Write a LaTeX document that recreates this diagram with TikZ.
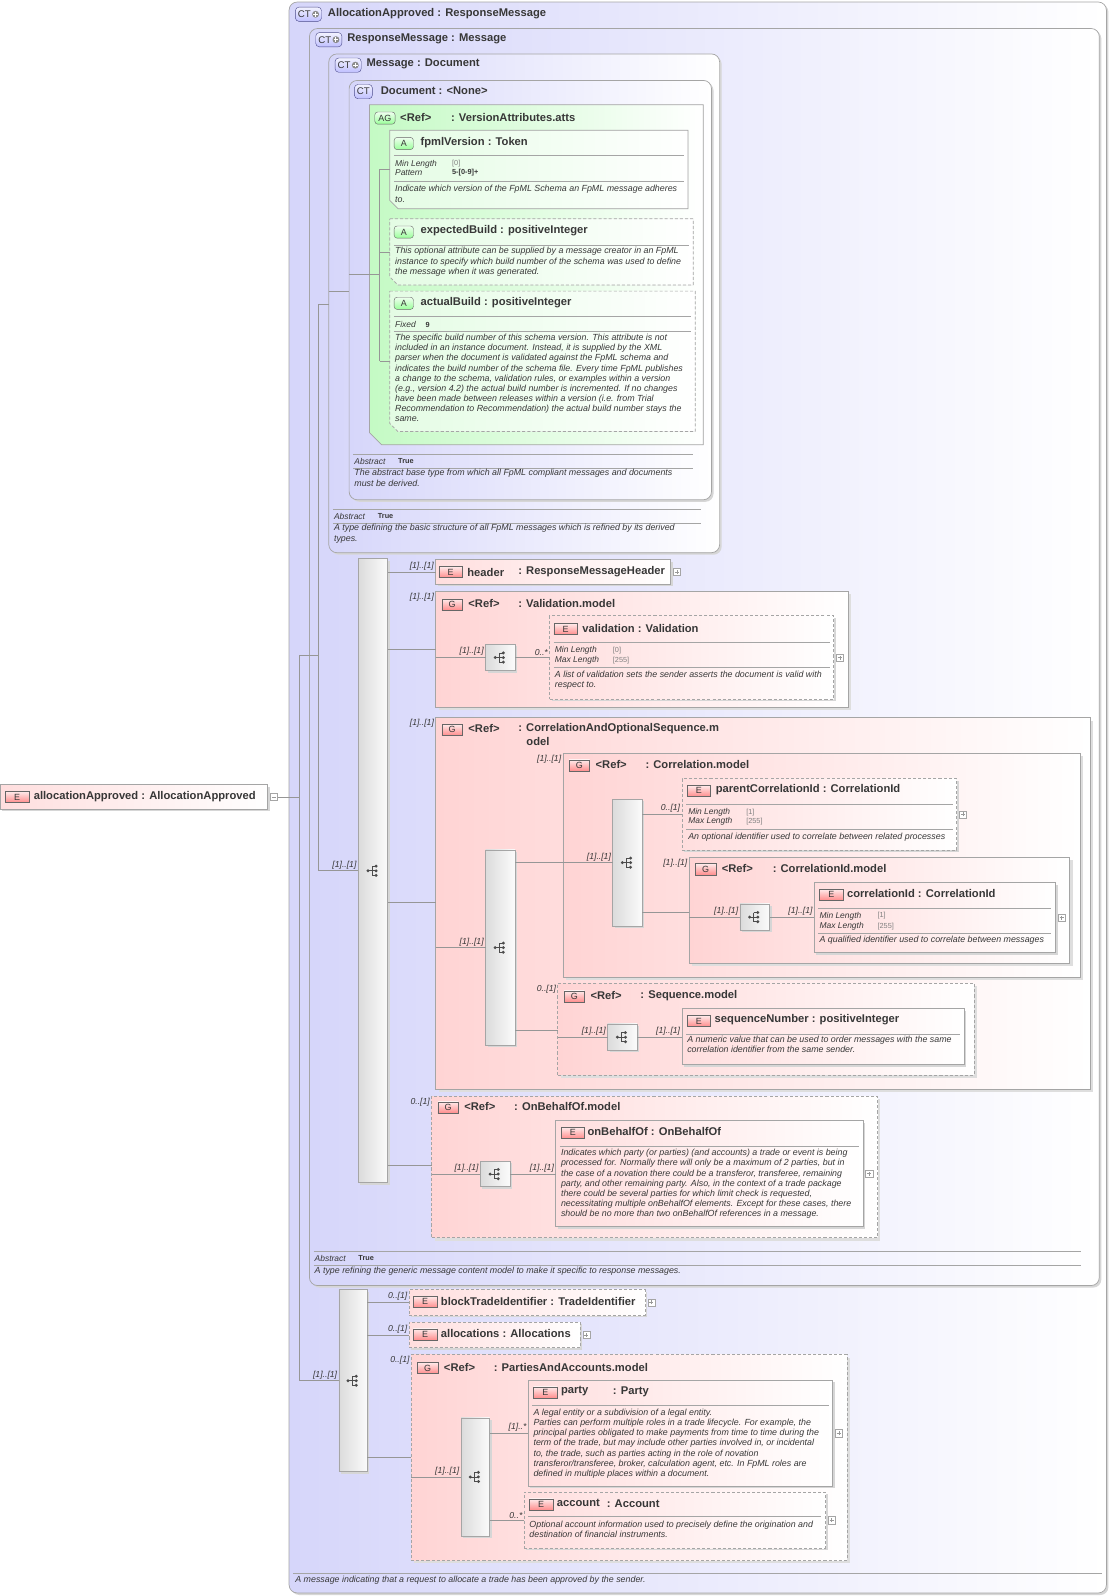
\documentclass[tikz,border=0pt]{standalone}
\usepackage{fontspec}
\setmainfont{Liberation Sans}
\usetikzlibrary{shadows}

\definecolor{ctfill}{RGB}{214,214,250}
\definecolor{agfill}{RGB}{196,250,196}
\definecolor{attfill}{RGB}{228,252,228}
\definecolor{gfill}{RGB}{255,212,212}
\definecolor{efill}{RGB}{255,222,222}
\definecolor{boxline}{RGB}{165,165,165}
\definecolor{connline}{RGB}{150,150,150}
\definecolor{txt}{RGB}{55,55,55}

\tikzset{
  box/.style={draw=boxline, line width=0.7pt, inner sep=0pt, outer sep=0pt, anchor=north west},
  boxshadow/.style={drop shadow={shadow xshift=2pt, shadow yshift=-2pt, opacity=1, fill=black!16}},
  ctbox/.style={box, rounded corners=8pt, left color=ctfill, right color=white, boxshadow},
  gbox/.style={box, left color=gfill, right color=white,
    drop shadow={shadow xshift=3pt, shadow yshift=-3pt, opacity=1, fill=black!13}},
  ebox/.style={box, left color=efill, right color=white, boxshadow},
  holder/.style={box, draw=none},
  optional/.style={dash pattern=on 3pt off 2pt},
  seqbar/.style={box, left color=gray!28, right color=gray!3, boxshadow},
  title/.style={anchor=west, inner sep=0pt, text=txt, font=\fontsize{11}{13}\selectfont\bfseries},
  desc/.style={anchor=north west, align=left, inner sep=0pt, text=txt, font=\fontsize{8.7}{10}\selectfont\itshape},
  prop/.style={anchor=west, inner sep=0pt, text=txt, font=\fontsize{8.3}{9}\selectfont\itshape},
  propval/.style={anchor=west, inner sep=0pt, text=gray, font=\fontsize{7.2}{8}\selectfont},
  fixval/.style={anchor=west, inner sep=0pt, text=txt, font=\fontsize{7.2}{8}\selectfont\bfseries},
  card/.style={anchor=south east, inner sep=1.5pt, text=txt, font=\fontsize{8.5}{9}\selectfont\itshape},
  gcard/.style={card, anchor=north east},
  sep/.style={draw=boxline, line width=0.6pt},
  conn/.style={draw=connline, line width=0.6pt},
  ebadge/.style={anchor=west, draw=black!60, top color=red!8, bottom color=red!45, minimum width=23pt,
    minimum height=11pt, inner sep=0pt, text=txt, font=\fontsize{8.8}{9}\selectfont},
  gbadge/.style={ebadge, minimum width=20pt},
  abadge/.style={ebadge, top color=green!6, bottom color=green!40!white, rounded corners=3pt,
    minimum width=19pt, minimum height=12pt},
  ctbadge/.style={anchor=west, draw=blue!35!black!70, top color=blue!5, bottom color=blue!25,
    rounded corners=3.5pt, minimum height=14pt, inner sep=2.5pt, text=txt, font=\fontsize{9.5}{10}\selectfont},
  plusbox/.style={draw=boxline, fill=white, minimum size=7pt, inner sep=0pt,
    path picture={\draw[gray!80] (path picture bounding box.west) ++(1.5pt,0) -- ++(4pt,0);
      \draw[gray!80] (path picture bounding box.south) ++(0,1.5pt) -- ++(0,4pt);}},
  minusbox/.style={draw=boxline, fill=white, minimum size=7pt, inner sep=0pt,
    path picture={\draw[gray!80] (path picture bounding box.west) ++(1.5pt,0) -- ++(4pt,0);}},
  seqicon/.pic={
    \draw[black!70, line width=0.8pt] (-5,0) -- (-1,0) (-1,-4.5) -- (-1,4.5)
      (-1,-4.5) -- (3,-4.5) (-1,0) -- (3,0) (-1,4.5) -- (3,4.5);
    \fill[black!70] (-5,0) circle (1.6pt) (3,-4.5) circle (1.6pt) (3,0) circle (1.6pt) (3,4.5) circle (1.6pt);
  }
}

\begin{document}
\begin{tikzpicture}[x=1pt, y=-1pt]
  \path[use as bounding box, fill=white] (0,0) rectangle (1092,1568);

  % complex types and attribute group
  \node[ctbox, minimum width=803, minimum height=1563] (allocType) at (284,2) {};
  \node[ctbox, minimum width=776, minimum height=1235] (respType) at (304,28) {};
  \node[ctbox, minimum width=384, minimum height=490] (msgType) at (323,53) {};
  \node[ctbox, minimum width=356, minimum height=412] (docType) at (343,79) {};
  \node[holder, minimum width=328, minimum height=334] (verAtts) at (363,103) {};
  \node[holder, minimum width=293, minimum height=77] (fpmlVersion) at (383,128) {};
  \node[holder, minimum width=298, minimum height=65] (expectedBuild) at (383,215) {};
  \node[holder, minimum width=300, minimum height=138] (actualBuild) at (383,286) {};
  \foreach \n/\c/\f/\d in {verAtts/12/agfill/solid, fpmlVersion/8/attfill/solid,
      expectedBuild/8/attfill/optional, actualBuild/8/attfill/optional} {
    \fill[black!16, xshift=2pt, yshift=-2pt] (\n.north west) -| (\n.south east)
      -- ([xshift=\c pt]\n.south west) -- ([yshift=\c pt]\n.south west) -- cycle;
    \draw[box, left color=\f, right color=white, \d] (\n.north west) -| (\n.south east)
      -- ([xshift=\c pt]\n.south west) -- ([yshift=\c pt]\n.south west) -- cycle;
  }

  % content of ResponseMessage
  \node[seqbar, minimum width=29, minimum height=613] (seqResp) at (352,549) {};
  \node[ebox, minimum width=231, minimum height=24] (header) at (428,550) {};
  \node[gbox, minimum width=405, minimum height=114] (valModel) at (428,581) {};
  \node[seqbar, minimum width=29, minimum height=26] (valSeq) at (477,633) {};
  \node[ebox, optional, minimum width=279, minimum height=82] (validation) at (540,605) {};
  \node[gbox, minimum width=643, minimum height=365] (caosModel) at (428,705) {};
  \node[seqbar, minimum width=29, minimum height=192] (caosSeq) at (477,835) {};
  \node[gbox, minimum width=508, minimum height=220] (corrModel) at (553,740) {};
  \node[seqbar, minimum width=29, minimum height=125] (corrSeq) at (602,785) {};
  \node[ebox, optional, minimum width=270, minimum height=70] (parentCorr) at (670,765) {};
  \node[gbox, minimum width=374, minimum height=104] (corrIdModel) at (677,842) {};
  \node[seqbar, minimum width=29, minimum height=26] (corrIdSeq) at (727,888) {};
  \node[ebox, minimum width=237, minimum height=69] (correlationId) at (800,867) {};
  \node[gbox, optional, minimum width=409, minimum height=90] (seqModel) at (548,966) {};
  \node[seqbar, minimum width=29, minimum height=26] (seqNumSeq) at (597,1006) {};
  \node[ebox, minimum width=277, minimum height=55] (sequenceNumber) at (670,991) {};
  \node[gbox, optional, minimum width=438, minimum height=139] (obModel) at (424,1077) {};
  \node[seqbar, minimum width=29, minimum height=25] (obSeq) at (472,1141) {};
  \node[ebox, minimum width=302, minimum height=104] (onBehalfOf) at (546,1101) {};

  % content of AllocationApproved
  \node[seqbar, minimum width=28, minimum height=179] (seqAlloc) at (333,1267) {};
  \node[ebox, optional, minimum width=232, minimum height=25] (blockTradeId) at (402,1267) {};
  \node[ebox, optional, minimum width=168, minimum height=25] (allocations) at (402,1299) {};
  \node[gbox, optional, minimum width=428, minimum height=202] (paModel) at (404,1331) {};
  \node[seqbar, minimum width=28, minimum height=116] (paSeq) at (453,1393) {};
  \node[ebox, minimum width=299, minimum height=104] (party) at (519,1356) {};
  \node[ebox, optional, minimum width=296, minimum height=55] (account) at (515,1466) {};

  \node[ebox, minimum width=263, minimum height=24] (allocationApproved) at (0,771) {};

  % badges and titles
  \node[ctbadge] (allocBadge) at (290,14) {CT\kern8pt};
  \node[title] at (322,13) {AllocationApproved : ResponseMessage};
  \node[ctbadge] (respBadge) at (310,39) {CT\kern8pt};
  \node[title] at (341,38) {ResponseMessage : Message};
  \node[ctbadge] (msgBadge) at (329,64) {CT\kern8pt};
  \node[title] at (360,63) {Message : Document};
  \foreach \n in {allocBadge,respBadge,msgBadge} {
    \fill[black!45] ([xshift=-6pt]\n.east) circle (3.4pt);
    \draw[white, line width=1pt] ([xshift=-8.3pt]\n.east) -- ([xshift=-3.7pt]\n.east)
      ([xshift=-6pt,yshift=-2.3pt]\n.east) -- ([xshift=-6pt,yshift=2.3pt]\n.east);
  }
  \node[ctbadge] at (348,90) {CT};
  \node[title] at (374,89) {Document : <None>};
  \node[abadge, minimum width=20pt] at (368,116) {AG};
  \node[title] at (393,115) {<Ref>};
  \node[title] at (443,115) {: VersionAttributes.atts};
  \node[abadge] at (387,141) {A};
  \node[title] at (413,140) {fpmlVersion : Token};
  \node[abadge] at (387,228) {A};
  \node[title] at (413,227) {expectedBuild : positiveInteger};
  \node[abadge] at (387,298) {A};
  \node[title] at (413,297) {actualBuild : positiveInteger};

  \node[ebadge] at (431,562) {E};
  \node[title] at (459,562) {header};
  \node[title] at (509,562) {: ResponseMessageHeader};
  \node[gbadge] at (434,594) {G};
  \node[title] at (460,593) {<Ref>};
  \node[title] at (509,593) {: Validation.model};
  \node[ebadge] at (544,618) {E};
  \node[title] at (572,617) {validation : Validation};
  \node[gbadge] at (434,717) {G};
  \node[title] at (460,716) {<Ref>};
  \node[title] at (509,716) {: CorrelationAndOptionalSequence.m};
  \node[title] at (517,728) {odel};
  \node[gbadge] at (559,752) {G};
  \node[title] at (585,751) {<Ref>};
  \node[title] at (634,751) {: Correlation.model};
  \node[ebadge] at (675,777) {E};
  \node[title] at (703,776) {parentCorrelationId : CorrelationId};
  \node[gbadge] at (683,854) {G};
  \node[title] at (709,853) {<Ref>};
  \node[title] at (759,853) {: CorrelationId.model};
  \node[ebadge] at (805,879) {E};
  \node[title] at (832,878) {correlationId : CorrelationId};
  \node[gbadge] at (554,979) {G};
  \node[title] at (580,978) {<Ref>};
  \node[title] at (629,978) {: Sequence.model};
  \node[ebadge] at (675,1003) {E};
  \node[title] at (702,1002) {sequenceNumber : positiveInteger};
  \node[gbadge] at (430,1088) {G};
  \node[title] at (456,1087) {<Ref>};
  \node[title] at (505,1087) {: OnBehalfOf.model};
  \node[ebadge] at (551,1113) {E};
  \node[title] at (577,1112) {onBehalfOf : OnBehalfOf};
  \node[ebadge] at (406,1279) {E};
  \node[title] at (433,1279) {blockTradeIdentifier : TradeIdentifier};
  \node[ebadge] at (406,1311) {E};
  \node[title] at (433,1310) {allocations : Allocations};
  \node[gbadge] at (410,1344) {G};
  \node[title] at (436,1343) {<Ref>};
  \node[title] at (485,1343) {: PartiesAndAccounts.model};
  \node[ebadge] at (524,1368) {E};
  \node[title] at (551,1367) {party};
  \node[title] at (602,1367) {: Party};
  \node[ebadge] at (520,1478) {E};
  \node[title] at (547,1477) {account};
  \node[title] at (596,1477) {: Account};
  \node[ebadge] at (5,783) {E};
  \node[title] at (33,783) {allocationApproved : AllocationApproved};

  % facets, separators and annotations
  \draw[sep] (387,153) -- (672,153) (387,178) -- (672,178);
  \node[prop] at (388,161) {Min Length};
  \node[propval] at (444,161) {[0]};
  \node[prop] at (388,170) {Pattern};
  \node[fixval] at (444,170) {5-[0-9]+};
  \node[desc] at (388,182) {Indicate which version of the FpML Schema an FpML message adheres\\to.};
  \draw[sep] (387,241) -- (677,241);
  \node[desc] at (388,243) {This optional attribute can be supplied by a message creator in an FpML\\instance to specify which build number of the schema was used to define\\the message when it was generated.};
  \draw[sep] (387,311) -- (679,311) (387,325) -- (679,325);
  \node[prop] at (388,319) {Fixed};
  \node[fixval] at (418,319) {9};
  \node[desc] at (388,328) {The specific build number of this schema version. This attribute is not\\included in an instance document. Instead, it is supplied by the XML\\parser when the document is validated against the FpML schema and\\indicates the build number of the schema file. Every time FpML publishes\\a change to the schema, validation rules, or examples within a version\\(e.g., version 4.2) the actual build number is incremented. If no changes\\have been made between releases within a version (i.e. from Trial\\Recommendation to Recommendation) the actual build number stays the\\same.};

  \draw[sep] (347,446) -- (681,446) (347,460) -- (681,460);
  \node[prop] at (348,453) {Abstract};
  \node[fixval] at (391,453) {True};
  \node[desc] at (348,461) {The abstract base type from which all FpML compliant messages and documents\\must be derived.};
  \draw[sep] (327,500) -- (689,500) (327,514) -- (689,514);
  \node[prop] at (328,507) {Abstract};
  \node[fixval] at (371,507) {True};
  \node[desc] at (328,515) {A type defining the basic structure of all FpML messages which is refined by its derived\\types.};
  \draw[sep] (308,1229) -- (1062,1229) (308,1243) -- (1062,1243);
  \node[prop] at (309,1236) {Abstract};
  \node[fixval] at (352,1236) {True};
  \node[desc] at (309,1245) {A type refining the generic message content model to make it specific to response messages.};
  \draw[sep] (288,1546) -- (1083,1546);
  \node[desc] at (290,1548) {A message indicating that a request to allocate a trade has been approved by the sender.};

  \draw[sep] (544,631) -- (815,631) (544,656) -- (815,656);
  \node[prop] at (545,639) {Min Length};
  \node[propval] at (602,639) {[0]};
  \node[prop] at (545,649) {Max Length};
  \node[propval] at (602,649) {[255]};
  \node[desc] at (545,659) {A list of validation sets the sender asserts the document is valid with\\respect to.};
  \draw[sep] (674,790) -- (936,790) (674,815) -- (936,815);
  \node[prop] at (676,798) {Min Length};
  \node[propval] at (733,798) {[1]};
  \node[prop] at (676,807) {Max Length};
  \node[propval] at (733,807) {[255]};
  \node[desc] at (676,818) {An optional identifier used to correlate between related processes};
  \draw[sep] (804,892) -- (1033,892) (804,917) -- (1033,917);
  \node[prop] at (805,900) {Min Length};
  \node[propval] at (862,900) {[1]};
  \node[prop] at (805,910) {Max Length};
  \node[propval] at (862,910) {[255]};
  \node[desc] at (805,919) {A qualified identifier used to correlate between messages};
  \draw[sep] (674,1016) -- (943,1016);
  \node[desc] at (675,1018) {A numeric value that can be used to order messages with the same\\correlation identifier from the same sender.};
  \draw[sep] (550,1126) -- (844,1126);
  \node[desc] at (551,1129) {Indicates which party (or parties) (and accounts) a trade or event is being\\processed for. Normally there will only be a maximum of 2 parties, but in\\the case of a novation there could be a transferor, transferee, remaining\\party, and other remaining party. Also, in the context of a trade package\\there could be several parties for which limit check is requested,\\necessitating multiple onBehalfOf elements. Except for these cases, there\\should be no more than two onBehalfOf references in a message.};
  \draw[sep] (523,1381) -- (814,1381);
  \node[desc] at (524,1384) {A legal entity or a subdivision of a legal entity.\\Parties can perform multiple roles in a trade lifecycle. For example, the\\principal parties obligated to make payments from time to time during the\\term of the trade, but may include other parties involved in, or incidental\\to, the trade, such as parties acting in the role of novation\\transferor/transferee, broker, calculation agent, etc. In FpML roles are\\defined in multiple places within a document.};
  \draw[sep] (519,1490) -- (807,1490);
  \node[desc] at (520,1494) {Optional account information used to precisely define the origination and\\destination of financial instruments.};

  % expanders and compositor icons
  \foreach \n in {header,validation,parentCorr,correlationId,onBehalfOf,blockTradeId,allocations,party,account}
    \node[plusbox] at ([xshift=6pt]\n.east) {};
  \node[minusbox] (allocMinus) at ([xshift=6pt]allocationApproved.east) {};
  \foreach \n in {seqResp,valSeq,caosSeq,corrSeq,corrIdSeq,seqNumSeq,obSeq,seqAlloc,paSeq}
    \pic at (\n.center) {seqicon};

  % connectors
  \coordinate (attJoin) at (373,269);
  \coordinate (docJoin) at (343,286);
  \coordinate (msgJoin) at (313,299);
  \coordinate (trunkTop) at (294,644);
  \draw[conn] (docType.west |- attJoin) -- (attJoin);
  \draw[conn] (fpmlVersion.west -| attJoin) -- (actualBuild.west -| attJoin);
  \draw[conn] (fpmlVersion.west -| attJoin) -- (fpmlVersion.west);
  \draw[conn] (expectedBuild.west -| attJoin) -- (expectedBuild.west);
  \draw[conn] (actualBuild.west -| attJoin) -- (actualBuild.west);
  \draw[conn] (msgType.west |- docJoin) -- (docJoin);
  \draw[conn] (msgJoin) -- (msgType.west |- msgJoin);
  \draw[conn] (msgJoin) -- (seqResp.west -| msgJoin) -- (seqResp.west) node[card] {[1]..[1]};
  \draw[conn] (allocMinus.east) -- (allocMinus.east -| trunkTop);
  \draw[conn] (trunkTop) -- (trunkTop -| msgJoin);
  \draw[conn] (trunkTop) -- (seqAlloc.west -| trunkTop) -- (seqAlloc.west) node[card] {[1]..[1]};

  \coordinate (valIn) at (428,638);
  \coordinate (caosIn) at (428,886);
  \coordinate (corrIdIn) at (677,896);
  \coordinate (seqIn) at (548,1012);
  \coordinate (obIn) at (424,1145);
  \coordinate (paIn) at (404,1432);
  \draw[conn] (seqResp.east |- header.west) -- (header.west) node[card] {[1]..[1]};
  \draw[conn] (seqResp.east |- valIn) -- (valIn);
  \node[gcard] at (valModel.north west) {[1]..[1]};
  \draw[conn] (valModel.west |- valSeq.west) -- (valSeq.west) node[card] {[1]..[1]};
  \draw[conn] (valSeq.east) -- (validation.west |- valSeq.east) node[card] {0..*};
  \draw[conn] (seqResp.east |- caosIn) -- (caosIn);
  \node[gcard] at (caosModel.north west) {[1]..[1]};
  \draw[conn] (caosModel.west |- caosSeq.west) -- (caosSeq.west) node[card] {[1]..[1]};
  \draw[conn] (caosSeq.east |- corrSeq.west) -- (corrSeq.west) node[card] {[1]..[1]};
  \node[gcard] at (corrModel.north west) {[1]..[1]};
  \draw[conn] (corrSeq.east |- parentCorr.west) -- (parentCorr.west) node[card] {0..[1]};
  \draw[conn] (corrSeq.east |- corrIdIn) -- (corrIdIn);
  \node[gcard] at (corrIdModel.north west) {[1]..[1]};
  \draw[conn] (corrIdModel.west |- corrIdSeq.west) -- (corrIdSeq.west) node[card] {[1]..[1]};
  \draw[conn] (corrIdSeq.east) -- (correlationId.west |- corrIdSeq.east) node[card] {[1]..[1]};
  \draw[conn] (caosSeq.east |- seqIn) -- (seqIn);
  \node[gcard] at (seqModel.north west) {0..[1]};
  \draw[conn] (seqModel.west |- seqNumSeq.west) -- (seqNumSeq.west) node[card] {[1]..[1]};
  \draw[conn] (seqNumSeq.east) -- (sequenceNumber.west |- seqNumSeq.east) node[card] {[1]..[1]};
  \draw[conn] (seqResp.east |- obIn) -- (obIn);
  \node[gcard] at (obModel.north west) {0..[1]};
  \draw[conn] (obModel.west |- obSeq.west) -- (obSeq.west) node[card] {[1]..[1]};
  \draw[conn] (obSeq.east) -- (onBehalfOf.west |- obSeq.east) node[card] {[1]..[1]};

  \draw[conn] (seqAlloc.east |- blockTradeId.west) -- (blockTradeId.west) node[card] {0..[1]};
  \draw[conn] (seqAlloc.east |- allocations.west) -- (allocations.west) node[card] {0..[1]};
  \draw[conn] (seqAlloc.east |- paIn) -- (paIn);
  \node[gcard] at (paModel.north west) {0..[1]};
  \draw[conn] (paModel.west |- paSeq.west) -- (paSeq.west) node[card] {[1]..[1]};
  \draw[conn] (paSeq.east |- party.west) -- (party.west) node[card] {[1]..*};
  \draw[conn] (paSeq.east |- account.west) -- (account.west) node[card] {0..*};
\end{tikzpicture}
\end{document}
